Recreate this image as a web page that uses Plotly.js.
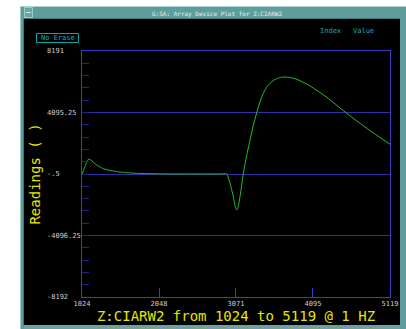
<!DOCTYPE html>
<html>
<head>
<meta charset="utf-8">
<script src="https://cdn.plot.ly/plotly-3.0.1.min.js"></script>
<style>html,body{margin:0;padding:0;background:#fff;}#plot{width:406px;height:329px;}</style>
</head>
<body>
<div id="plot"></div>
<script>
// ---- data ----
var indexValues = [1024,1044,1064,1086,1108,1130,1153,1185,1219,1260,1307,1370,1440,1500,1573,1660,1751,1860,1968,2150,2400,2650,2850,2948,2970,2992,3014,3036,3060,3081,3102,3125,3147,3169,3212,3258,3300,3347,3390,3435,3480,3524,3570,3613,3665,3723,3800,3879,3965,4056,4165,4278,4400,4531,4670,4810,4960,5119];
var readings    = [0,240,487,780,977,960,885,740,600,470,355,270,200,150,110,72,45,28,15,6,3,2,1,0,-260,-620,-1050,-1510,-2150,-2400,-2150,-1510,-760,45,1200,2264,3200,4083,4800,5374,5780,6040,6230,6347,6430,6460,6420,6307,6110,5860,5510,5110,4620,4095,3560,3043,2520,1978];

var yTickVals  = [8191, 4095.25, -0.5, -4096.25, -8192];
var yTickText  = ['8191', '4095.25', '-.5', '-4096.25', '-8192'];
var xTickVals  = [1024, 2048, 3071, 4095, 5119];
var xTickText  = ['1024', '2048', '3071', '4095', '5119'];

var windowTitle = 'G:SA: Array Device Plot for Z:CIARW2';
var xTitle = 'Z:CIARW2 from 1024 to 5119 @ 1 HZ';
var yTitle = 'Readings ( )';

// ---- layout helpers (pixel -> paper) ----
var L = 82, T = 51, W = 308, H = 246;
function px(x){ return (x - L) / W; }
function py(y){ return (T + H - y) / H; }
function rect(x0,y0,x1,y1,fill,line){
  return {type:'rect', xref:'paper', yref:'paper', x0:px(x0), x1:px(x1), y0:py(y1), y1:py(y0),
          fillcolor:fill, line:{width: line?1:0, color: line||fill}, layer:'below'};
}
function hline(x0,x1,y,color){
  return {type:'line', xref:'paper', yref:'paper', x0:px(x0), x1:px(x1), y0:py(y), y1:py(y), line:{color:color,width:1}, layer:'below'};
}
function vline(x,y0,y1,color){
  return {type:'line', xref:'paper', yref:'paper', x0:px(x), x1:px(x), y0:py(y0), y1:py(y1), line:{color:color,width:1}, layer:'below'};
}

var shapes = [
  rect(20,6,406,329,'#5f9c9c'),
  rect(24,19,400,325,'#000000'),
  vline(20.5,6,329,'#9fcaca'),
  vline(23.5,19,325,'#3f7a7a'),
  hline(20,406,6.5,'#a8d4d4'),
  hline(24,400,18.5,'#3f7a7a'),
  rect(24,325,400,329,'#6f9f9f'),
  rect(24.5,7.5,32.5,17.5,'#6aa6a6','#9fcaca'),
  hline(26,31,12.5,'#d8eeee'),
  rect(36.5,33.5,78.5,42.5,'rgba(0,0,0,0)','#00a8a8')
];

var mono = 'DejaVu Sans Mono, Liberation Mono, monospace';
var annotations = [
  {xref:'paper', yref:'paper', x:px(217), y:py(14.5), text:windowTitle, showarrow:false, xanchor:'center', yanchor:'middle',
   font:{family:mono, size:6, color:'#e4f2f2'}},
  {xref:'paper', yref:'paper', x:px(57.5), y:py(38), text:'No Erase', showarrow:false, xanchor:'center', yanchor:'middle',
   font:{family:mono, size:7, color:'#00b8b8'}},
  {xref:'paper', yref:'paper', x:px(330), y:py(30.5), text:'Index', showarrow:false, xanchor:'center', yanchor:'middle',
   font:{family:mono, size:7, color:'#1aa8a8'}},
  {xref:'paper', yref:'paper', x:px(363.5), y:py(30.5), text:'Value', showarrow:false, xanchor:'center', yanchor:'middle',
   font:{family:mono, size:7, color:'#1aa8a8'}}
];
for (var i = 0; i < yTickVals.length; i++) {
  annotations.push({xref:'paper', yref:'y', x:px(45), y:yTickVals[i], text:yTickText[i], showarrow:false,
    xanchor:'left', yanchor:'middle', font:{family:mono, size:7, color:'#cfcfcf'}});
}

var trace = {
  x: indexValues, y: readings, type:'scatter', mode:'lines',
  line:{color:'#22c422', width:1, shape:'spline', smoothing:0.6},
  hoverinfo:'none', showlegend:false
};

var layout = {
  width:406, height:329,
  margin:{l:L, r:406-L-W, t:T, b:329-T-H, pad:0},
  paper_bgcolor:'#ffffff', plot_bgcolor:'#000000',
  showlegend:false,
  xaxis:{
    range:[1024,5119], tickmode:'array', tickvals:xTickVals, ticktext:xTickText,
    ticks:'inside', ticklen:9, tickcolor:'#3a3ac0', tickwidth:1,
    showgrid:false, zeroline:false,
    showline:true, mirror:true, linecolor:'#3b3bc4', linewidth:1,
    tickfont:{family:mono, size:7, color:'#cfcfcf'},
    title:{text:xTitle, font:{family:mono, size:14, color:'#e6e600'}, standoff:3}
  },
  yaxis:{
    range:[-8192,8191], tick0:-8192, dtick:4095.75, tickmode:'linear',
    ticks:'inside', ticklen:7, tickcolor:'#22227a',
    showticklabels:false,
    showgrid:true, gridcolor:'#3030a8', gridwidth:1,
    zeroline:false, showline:true, mirror:true, linecolor:'#3b3bc4', linewidth:1,
    minor:{tick0:-8192, dtick:819.15, ticks:'inside', ticklen:7, tickcolor:'#22227a', showgrid:false},
    title:{text:yTitle, font:{family:mono, size:14, color:'#e6e600'}, standoff:37}
  },
  shapes:shapes, annotations:annotations
};

Plotly.newPlot('plot', [trace], layout, {staticPlot:true, displayModeBar:false});
</script>
</body>
</html>
